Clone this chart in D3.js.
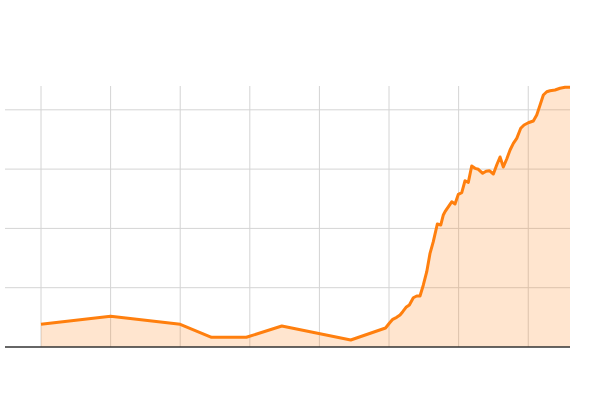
<!DOCTYPE html>
<html>
<head>
<meta charset="utf-8">
<script src="https://cdn.jsdelivr.net/npm/d3@7"></script>
<style>
  html, body { margin: 0; padding: 0; background: #fff; }
  svg { display: block; }
</style>
</head>
<body>
<svg id="chart" width="600" height="400"></svg>
<script>
// Data (x in grid-interval units, y in value units)
const xValues = [0, 1.0, 2.0, 2.45, 2.95, 3.46, 4.45, 4.95,
  5.004, 5.053, 5.11, 5.158, 5.197, 5.244, 5.292, 5.349, 5.398, 5.445,
  5.493, 5.542, 5.589, 5.636, 5.694, 5.743, 5.78, 5.805, 5.876, 5.901,
  5.948, 5.996, 6.045, 6.092, 6.139, 6.188, 6.236, 6.283, 6.346, 6.394,
  6.441, 6.499, 6.547, 6.595, 6.642, 6.691, 6.739, 6.786, 6.835, 6.892,
  6.94, 7.001, 7.073, 7.122, 7.17, 7.217, 7.266, 7.313, 7.385, 7.457,
  7.529, 7.6];
const yValues = [38.3, 51.8, 38.3, 16.4, 16.4, 35.4, 11.8, 32.0,
  40.0, 46.7, 50.1, 54.0, 59.5, 66.9, 70.8, 83.1, 86.0, 86.0,
  104.6, 127.0, 158.0, 177.6, 207.4, 205.7, 222.6, 228.2, 240.6, 245.0,
  241.1, 257.5, 260.2, 280.4, 277.7, 305.2, 301.3, 299.7, 292.9, 296.3,
  297.3, 291.7, 306.9, 320.4, 303.5, 317.0, 332.2, 343.5, 351.9, 368.8,
  374.4, 378.2, 381.1, 391.2, 408.1, 425.0, 430.5, 432.2, 433.4, 436.3,
  437.9, 437.9];
const xTicks = [0, 1, 2, 3, 4, 5, 6, 7];
const yTicks = [100, 200, 300, 400];

const svg = d3.select("#chart");
const data = xValues.map((x, i) => ({ x, y: yValues[i] }));

const x = d3.scaleLinear().domain([0, 7.6]).range([41, 570]);
const y = d3.scaleLinear().domain([0, 400]).range([347, 109.8]);
const gridLeft = 5, gridRight = 570, vTop = 86;

// Vertical gridlines
svg.append("g").selectAll("line").data(xTicks).join("line")
  .attr("x1", d => x(d)).attr("x2", d => x(d))
  .attr("y1", vTop).attr("y2", y(0))
  .attr("stroke", "#d4d4d4").attr("stroke-width", 1);

// Horizontal gridlines
svg.append("g").selectAll("line").data(yTicks).join("line")
  .attr("x1", gridLeft).attr("x2", gridRight)
  .attr("y1", d => y(d)).attr("y2", d => y(d))
  .attr("stroke", "#d4d4d4").attr("stroke-width", 1);

// Area
const area = d3.area().x(d => x(d.x)).y0(y(0)).y1(d => y(d.y));
svg.append("path").datum(data)
  .attr("d", area)
  .attr("fill", "#ff7f0e").attr("fill-opacity", 0.2);

// Line
const line = d3.line().x(d => x(d.x)).y(d => y(d.y));
svg.append("path").datum(data)
  .attr("d", line)
  .attr("fill", "none")
  .attr("stroke", "#ff7f0e")
  .attr("stroke-width", 3)
  .attr("stroke-linejoin", "round");

// Baseline
svg.append("line")
  .attr("x1", gridLeft).attr("x2", gridRight)
  .attr("y1", y(0)).attr("y2", y(0))
  .attr("stroke", "#333").attr("stroke-width", 1.5);
</script>
</body>
</html>
